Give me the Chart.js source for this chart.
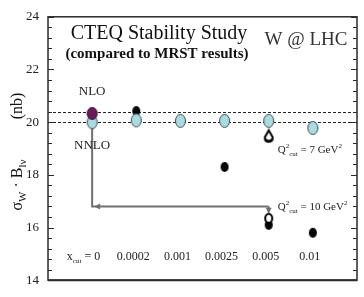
<!DOCTYPE html>
<html>
<head>
<meta charset="utf-8">
<script src="https://cdn.jsdelivr.net/npm/chart.js@4.4.1/dist/chart.umd.min.js"></script>
<style>
html, body { margin: 0; padding: 0; background: #fff; }
#wrap { width: 364px; height: 297px; }
</style>
</head>
<body>
<div id="wrap"><canvas id="c" width="364" height="297"></canvas></div>
<script>
// x_cut columns
const xcutLabels = ['0', '0.0002', '0.001', '0.0025', '0.005', '0.01'];
// NNLO results (light blue)
const nnloValues = [20.0, 20.07, 20.05, 20.05, 20.05, 19.78];
// NLO results (black), x_cut = 0 drawn in purple
const nloValues = [20.33, 20.42, null, 18.3, 16.1, 15.8];
// open markers at x_cut = 0.005
const q7Values = [null, null, null, null, 19.48, null];
const q10Values = [null, null, null, null, 16.35, null];
// dashed reference lines (NLO, NNLO at x_cut = 0)
const refLines = [20.4, 20.0];
const yMin = 14, yMax = 24, yStep = 2;

const SERIF = '"Liberation Serif", "DejaVu Serif", serif';

function toPoints(arr, from, to) {
    let pts = [];
    arr.forEach((v, i) => {
        if (v !== null && i >= from && i <= to) pts.push({ x: i, y: v });
    });
    return pts;
}

// ellipse marker as an image
function ellipse(w, h, fill, stroke, lw) {
    let c = document.createElement('canvas');
    c.width = w + 2;
    c.height = h + 2;
    let g = c.getContext('2d');
    g.beginPath();
    g.ellipse(c.width / 2, c.height / 2, w / 2 - lw / 2, h / 2 - lw / 2, 0, 0, Math.PI * 2);
    g.fillStyle = fill;
    g.fill();
    if (lw) {
        g.lineWidth = lw;
        g.strokeStyle = stroke;
        g.stroke();
    }
    return c;
}

// open "drop" marker: pointed top, round bottom
function drop(w, h) {
    let c = document.createElement('canvas');
    c.width = w + 4;
    c.height = h + 4;
    let g = c.getContext('2d');
    let cx = c.width / 2, r = w / 2;
    let top = 2, cy = c.height - 2 - r;
    g.beginPath();
    g.moveTo(cx, top);
    g.lineTo(cx + r, cy);
    g.arc(cx, cy, r, 0, Math.PI);
    g.lineTo(cx, top);
    g.closePath();
    g.fillStyle = '#fff';
    g.fill();
    g.lineWidth = 2;
    g.strokeStyle = '#000';
    g.stroke();
    g.beginPath();
    g.arc(cx, cy, r, 0.15 * Math.PI, 0.85 * Math.PI);
    g.lineWidth = 3;
    g.stroke();
    return c;
}

const cyanImg = ellipse(11, 14, '#aadbe0', '#3a4a4c', 1);
const purpleImg = ellipse(11, 13, '#6a1a5c', '#3a0a30', 1);
const blackImg = ellipse(8, 10, '#050505', '#000', 0);
const openImg = ellipse(9, 11, '#ffffff', '#000', 2);
const dropImg = drop(8, 11);

// text made of pieces (sub/superscripts)
function rich(ctx, parts, x, y, align) {
    let w = 0;
    parts.forEach(p => { ctx.font = p.f; p.w = ctx.measureText(p.t).width; w += p.w; });
    let cx = align === 'center' ? x - w / 2 : (align === 'right' ? x - w : x);
    ctx.textAlign = 'left';
    ctx.textBaseline = 'alphabetic';
    parts.forEach(p => {
        ctx.font = p.f;
        ctx.fillText(p.t, cx, y + (p.dy || 0));
        cx += p.w;
    });
}

function arrowHead(ctx, x, y, dir) {
    ctx.beginPath();
    if (dir === 'left') {
        ctx.moveTo(x, y); ctx.lineTo(x + 6, y - 3); ctx.lineTo(x + 6, y + 3);
    } else {
        ctx.moveTo(x, y); ctx.lineTo(x - 3, y - 6); ctx.lineTo(x + 3, y - 6);
    }
    ctx.closePath();
    ctx.fill();
}

const backPlugin = {
    id: 'back',
    beforeDatasetsDraw(chart) {
        const { ctx, chartArea: a, scales: { x, y } } = chart;
        ctx.save();
        // dashed reference lines
        ctx.strokeStyle = '#222';
        ctx.lineWidth = 1;
        ctx.setLineDash([3, 2]);
        refLines.forEach(v => {
            let py = Math.round(y.getPixelForValue(v)) + 0.5;
            ctx.beginPath(); ctx.moveTo(a.left, py); ctx.lineTo(a.right, py); ctx.stroke();
        });
        ctx.setLineDash([]);
        // arrows
        ctx.strokeStyle = '#707070';
        ctx.fillStyle = '#707070';
        ctx.lineWidth = 2;
        let x0 = x.getPixelForValue(0), x4 = x.getPixelForValue(4);
        let yTop = y.getPixelForValue(20.0), yArr = y.getPixelForValue(16.8);
        ctx.beginPath();
        ctx.moveTo(x0, yTop); ctx.lineTo(x0, yArr); ctx.lineTo(x4, yArr);
        ctx.moveTo(x4, yArr); ctx.lineTo(x4, y.getPixelForValue(16.6));
        ctx.stroke();
        ctx.lineWidth = 1;
        arrowHead(ctx, x0 + 2, yArr, 'left');
        arrowHead(ctx, x4, y.getPixelForValue(16.52), 'down');
        ctx.restore();
    }
};

const frontPlugin = {
    id: 'front',
    afterDatasetsDraw(chart) {
        const { ctx, chartArea: a, scales: { x, y } } = chart;
        ctx.save();
        // frame
        ctx.strokeStyle = '#2a2a2a';
        ctx.lineWidth = 1.5;
        ctx.strokeRect(a.left, a.top, a.right - a.left, a.bottom - a.top);
        ctx.lineWidth = 2;
        ctx.beginPath(); ctx.moveTo(a.left, a.bottom); ctx.lineTo(a.right, a.bottom); ctx.stroke();
        // minor/major ticks on both sides
        ctx.lineWidth = 1;
        for (let k = 0; k <= 25; k++) {
            let v = yMin + k * 0.4;
            let py = Math.round(y.getPixelForValue(v)) + 0.5;
            let len = k % 5 === 0 ? 6 : 4;
            ctx.beginPath();
            ctx.moveTo(a.left, py); ctx.lineTo(a.left + len, py);
            ctx.moveTo(a.right - len, py); ctx.lineTo(a.right, py);
            ctx.stroke();
        }
        // titles
        ctx.fillStyle = '#111';
        ctx.textAlign = 'center';
        ctx.textBaseline = 'alphabetic';
        ctx.font = '20px ' + SERIF;
        ctx.fillText('CTEQ Stability Study', 159, 39);
        ctx.font = 'bold 15px ' + SERIF;
        ctx.fillText('(compared to MRST results)', 157, 58);
        ctx.fillStyle = '#333';
        ctx.font = '19px ' + SERIF;
        ctx.fillText('W @ LHC', 306, 45);
        // NLO / NNLO labels
        ctx.fillStyle = '#222';
        ctx.font = '13px ' + SERIF;
        let x0 = x.getPixelForValue(0);
        ctx.fillText('NLO', x0, y.getPixelForValue(20.35) - 18);
        ctx.fillText('NNLO', x0, y.getPixelForValue(20.0) + 27);
        // Q2 cut labels
        let x4 = x.getPixelForValue(4);
        const big = '11px ' + SERIF, small = '7px ' + SERIF;
        rich(ctx, [
            { t: 'Q', f: big }, { t: '2', f: small, dy: -5 }, { t: 'cut', f: small, dy: 3 },
            { t: ' = 7 GeV', f: big }, { t: '2', f: small, dy: -5 }
        ], x4 + 9, y.getPixelForValue(19.0) + 4, 'left');
        rich(ctx, [
            { t: 'Q', f: big }, { t: '2', f: small, dy: -5 }, { t: 'cut', f: small, dy: 3 },
            { t: ' = 10 GeV', f: big }, { t: '2', f: small, dy: -5 }
        ], x4 + 9, y.getPixelForValue(16.8) + 4, 'left');
        // x_cut labels inside the plot
        const lab = '12px ' + SERIF;
        let ly = y.getPixelForValue(14.9) + 4;
        xcutLabels.forEach((t, i) => {
            let px = x.getPixelForValue(i);
            if (i === 0) {
                rich(ctx, [
                    { t: 'x', f: lab }, { t: 'cut', f: '7px ' + SERIF, dy: 3 }, { t: ' = 0', f: lab }
                ], px + 8, ly, 'right');
            } else {
                ctx.font = lab;
                ctx.textAlign = 'center';
                ctx.fillText(t, px - 3, ly);
            }
        });
        // y axis title
        ctx.fillStyle = '#111';
        ctx.translate(22, 0);
        ctx.rotate(-Math.PI / 2);
        const yt = '16px ' + SERIF, ys = '11px ' + SERIF;
        rich(ctx, [
            { t: 'σ', f: yt }, { t: 'W', f: ys, dy: 4 }, { t: ' · ', f: yt },
            { t: 'B', f: yt }, { t: 'lν', f: ys, dy: 4 }
        ], -185, 0, 'center');
        rich(ctx, [{ t: '(nb)', f: yt }], -106, 0, 'center');
        ctx.restore();
    }
};

new Chart(document.getElementById('c'), {
    type: 'scatter',
    data: {
        datasets: [
            {
                label: 'NLO x_cut = 0',
                data: toPoints(nloValues, 0, 0),
                pointStyle: purpleImg,
                order: 0
            },
            {
                label: 'open 7 GeV2',
                data: toPoints(q7Values, 0, 5),
                pointStyle: dropImg,
                order: 1
            },
            {
                label: 'NNLO',
                data: toPoints(nnloValues, 0, 5),
                pointStyle: cyanImg,
                order: 2
            },
            {
                label: 'open 10 GeV2',
                data: toPoints(q10Values, 0, 5),
                pointStyle: openImg,
                order: 3
            },
            {
                label: 'NLO',
                data: toPoints(nloValues, 1, 5),
                pointStyle: blackImg,
                order: 4
            }
        ]
    },
    options: {
        responsive: false,
        animation: false,
        layout: { padding: { left: 0, top: 9, right: 7, bottom: 14 } },
        plugins: { legend: { display: false }, tooltip: { enabled: false } },
        scales: {
            x: { type: 'linear', min: -1, max: 6, display: false },
            y: {
                min: yMin,
                max: yMax,
                grid: { display: false, drawTicks: false },
                border: { display: false },
                ticks: {
                    stepSize: yStep,
                    padding: 9,
                    color: '#222',
                    font: { family: SERIF, size: 13 }
                },
                afterFit(s) { s.width = 48; }
            }
        }
    },
    plugins: [backPlugin, frontPlugin]
});
</script>
</body>
</html>
